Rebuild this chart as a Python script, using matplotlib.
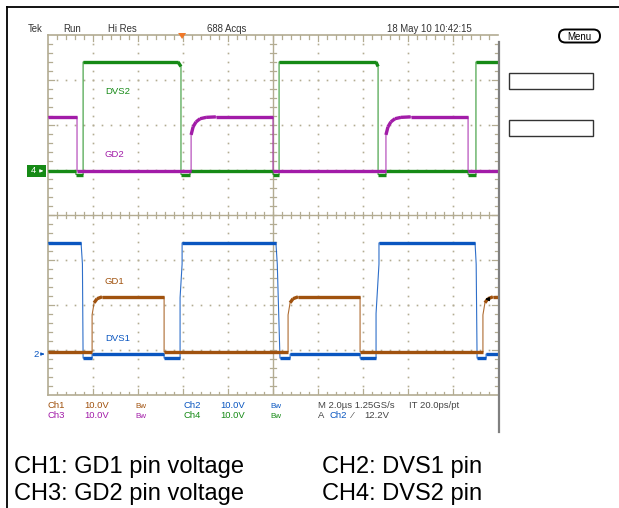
import numpy as np
import matplotlib
matplotlib.use("Agg")
import matplotlib.pyplot as plt
from matplotlib.patches import Rectangle, FancyBboxPatch, Polygon

plt.rcParams['font.family'] = ['Liberation Sans', 'DejaVu Sans']

# scope settings
VDIV = 10.0          # V per division
TDIV = 2.0           # us per division
# channel ground positions (divisions from centre)
pos_ch1 = -3.04
pos_ch2 = -3.09
pos_ch3 = 0.98
pos_ch4 = 0.98
trig_level = 12.2    # V on Ch2
trig_time = 5.96     # us

# traces: time (us), voltage (V)
# CH4 - DVS2 (green)
dvs2_t = [0.0, 1.24, 1.24, 1.56, 1.56, 5.78, 5.91, 5.91, 6.31, 6.31, 10.0, 10.0,
          10.27, 10.27, 14.58, 14.67, 14.67, 15.02, 15.02, 18.67, 18.67, 19.02, 19.02, 20.0]
dvs2_v = [0.0, 0.0, -0.8, -0.8, 24.2, 24.2, 23.2, -0.8, -0.8, 0.0, 0.0, -0.8,
          -0.8, 24.2, 24.2, 23.2, -0.8, -0.8, 0.0, 0.0, -0.8, -0.8, 24.2, 24.2]
# CH3 - GD2 (purple)
gd2_t = [0.0, 1.29, 1.29, 6.36, 6.36, 6.45, 6.58, 6.76, 7.03, 7.46, 10.0, 10.0,
         15.02, 15.02, 15.11, 15.24, 15.42, 15.69, 16.12, 18.67, 18.67, 20.0]
gd2_v = [12.0, 12.0, 0.0, 0.0, 8.0, 9.8, 10.9, 11.6, 11.9, 12.0, 12.0, 0.0,
         0.0, 8.0, 9.8, 10.9, 11.6, 11.9, 12.0, 12.0, 0.0, 0.0]
# CH2 - DVS1 (blue)
dvs1_t = [0.0, 1.47, 1.53, 1.56, 1.96, 1.96, 5.16, 5.16, 5.87, 5.87, 5.96, 5.96,
          10.13, 10.19, 10.31, 10.76, 10.76, 13.87, 13.87, 14.58, 14.58, 14.71, 14.71,
          18.98, 19.03, 19.07, 19.47, 19.47, 20.0]
dvs1_v = [24.7, 24.7, 20.0, -0.9, -0.9, 0.0, 0.0, -0.9, -0.9, 12.5, 20.0, 24.7,
          24.7, 20.0, -0.9, -0.9, 0.0, 0.0, -0.9, -0.9, 9.0, 20.0, 24.7,
          24.7, 20.0, -0.9, -0.9, 0.0, 0.0]
# CH1 - GD1 (brown)
gd1_t = [0.0, 1.96, 1.96, 2.05, 2.18, 2.40, 5.16, 5.16, 10.67, 10.67, 10.76, 10.89,
         11.11, 13.87, 13.87, 19.33, 19.33, 19.42, 19.55, 19.77, 20.0]
gd1_v = [0.0, 0.0, 8.2, 10.9, 11.8, 12.2, 12.2, 0.0, 0.0, 8.2, 10.9, 11.8,
         12.2, 12.2, 0.0, 0.0, 8.2, 10.9, 11.8, 12.2, 12.2]

c_ch1 = '#a0520e'
c_ch2 = '#0a56c0'
c_ch3 = '#a21ca8'
c_ch4 = '#168a16'
c_grat = '#b3ac92'

W, H = 619, 508
fig = plt.figure(figsize=(W/100, H/100), dpi=100)

# graticule box in pixels
gx0, gy0, gw, gh = 48, 35, 450, 360
ax = fig.add_axes([gx0/W, 1-(gy0+gh)/H, gw/W, gh/H])
ax.set_xlim(0, 10*TDIV)
ax.set_ylim(-4, 4)
ax.axis('off')

# graticule
px_x = TDIV/45.0   # us per pixel
px_y = 1/45.0      # div per pixel
minor_x = np.arange(0, 10*TDIV+1e-6, TDIV/5)
minor_y = np.arange(-4, 4+1e-6, 0.2)
for xd in np.arange(1, 10):
    if xd == 5:
        continue
    ax.plot(np.full(len(minor_y[1:-1]), xd*TDIV), minor_y[1:-1], ls='none', marker='s',
            ms=1.2, mew=0, color=c_grat)
for yd in [-3, -2, -1, 1, 2, 3]:
    ax.plot(minor_x[1:-1], np.full(len(minor_x[1:-1]), yd), ls='none', marker='s',
            ms=1.2, mew=0, color=c_grat)
# centre lines and edges
ax.plot([0, 20], [0, 0], color=c_grat, lw=1.0)
ax.plot([10, 10], [-4, 4], color=c_grat, lw=1.0)
ax.plot([0, 20], [4, 4], color=c_grat, lw=1.2, clip_on=False)
ax.plot([0, 20], [-4, -4], color=c_grat, lw=1.2, clip_on=False)
ax.plot([0, 0], [-4, 4], color=c_grat, lw=1.2, clip_on=False)
for x in minor_x[1:-1]:
    big = abs(x/TDIV - round(x/TDIV)) < 1e-6
    L = (6 if big else 3.5) * px_y
    ax.plot([x, x], [4, 4-L], color=c_grat, lw=0.9)
    ax.plot([x, x], [-4, -4+L], color=c_grat, lw=0.9)
    ax.plot([x, x], [-3*px_y, 3*px_y], color=c_grat, lw=0.9)
for y in minor_y[1:-1]:
    big = abs(y - round(y)) < 1e-6
    L = (6 if big else 3.5) * px_x
    ax.plot([0, L], [y, y], color=c_grat, lw=0.9)
    ax.plot([20, 20-L], [y, y], color=c_grat, lw=0.9)
    ax.plot([10-3*px_x, 10+3*px_x], [y, y], color=c_grat, lw=0.9)


def draw_trace(t, v, pos, color, z):
    t = np.array(t)
    v = np.array(v)
    y = pos + v/VDIV
    ax.plot(t, y, color=color, lw=0.8, alpha=0.85, zorder=z)
    for i in range(len(t)-1):
        dt = t[i+1]-t[i]
        if dt > 0 and abs(v[i+1]-v[i])/dt < 25:
            ax.plot(t[i:i+2], y[i:i+2], color=color, lw=2.4, solid_capstyle='butt', zorder=z)


draw_trace(dvs2_t, dvs2_v, pos_ch4, c_ch4, 3)
draw_trace(gd2_t, gd2_v, pos_ch3, c_ch3, 4)
draw_trace(dvs1_t, dvs1_v, pos_ch2, c_ch2, 5)
draw_trace(gd1_t, gd1_v, pos_ch1, c_ch1, 6)

# trace labels
ax.text(2.53, pos_ch4 + 1.7, 'DVS2', color=c_ch4, fontsize=6.8, va='baseline')
ax.text(2.53, pos_ch3 + 0.3, 'GD2', color=c_ch3, fontsize=6.8, va='baseline')
ax.text(2.53, pos_ch1 + 1.5, 'GD1', color=c_ch1, fontsize=6.8, va='baseline')
ax.text(2.53, pos_ch2 + 0.28, 'DVS1', color=c_ch2, fontsize=6.8, va='baseline')

# trigger level marker (right edge)
ax.annotate('', xy=(19.3, pos_ch2 + trig_level/VDIV), xytext=(19.75, pos_ch2 + trig_level/VDIV),
            arrowprops=dict(arrowstyle='-|>', color='black', lw=1.0, mutation_scale=5), zorder=8)

# overlay in pixel coordinates
ov = fig.add_axes([0, 0, 1, 1], facecolor='none')
ov.set_xlim(0, W)
ov.set_ylim(H, 0)
ov.axis('off')

# outer frame
ov.plot([7, W], [7, 7], color='black', lw=1.3)
ov.plot([7, 7], [7, H], color='black', lw=1.3)
ov.plot([498.5, 498.5], [42, 432], color='#808080', lw=1.6)

# header
hdr = dict(fontsize=6.9, color='#333333', va='baseline')
ov.text(28, 32, 'Tek', **hdr)
ov.text(63, 32, 'Run', **hdr)
ov.text(108, 32, 'Hi Res', **hdr)
ov.text(207, 32, '688 Acqs', **hdr)
ov.text(387, 32, '18 May 10 10:42:15', **hdr)

# trigger position marker
tx = gx0 + trig_time/px_x
ov.add_patch(Polygon([[tx-4, 33], [tx+4, 33], [tx, 39]], closed=True, color='#f07828', lw=0))

# channel ground markers
y4 = gy0 + (4-pos_ch4)*45
ov.add_patch(Rectangle((27, y4-6), 19, 12, color=c_ch4, lw=0))
ov.text(33, y4, '4', color='white', fontsize=6.8, ha='center', va='center')
ov.annotate('', xy=(46, y4), xytext=(38, y4),
            arrowprops=dict(arrowstyle='-|>', color='white', lw=0.8, mutation_scale=4))
y2 = gy0 + (4-pos_ch2)*45
ov.text(36, y2, '2', color=c_ch2, fontsize=6.8, ha='center', va='center')
ov.annotate('', xy=(47, y2), xytext=(40, y2),
            arrowprops=dict(arrowstyle='-|>', color=c_ch2, lw=0.8, mutation_scale=4))

# menu button and soft-key boxes
ov.add_patch(FancyBboxPatch((559, 29.5), 41, 13, boxstyle='round,pad=0,rounding_size=6.5',
                            fc='white', ec='black', lw=1.4))
ov.text(579.5, 36.5, 'Menu', fontsize=7, ha='center', va='center', color='black')
ov.add_patch(Rectangle((509, 73), 84, 16, fc='white', ec='#333333', lw=1.0))
ov.add_patch(Rectangle((509, 120), 84, 16, fc='white', ec='#333333', lw=1.0))

# readouts under the graticule
rd = dict(fontsize=6.8, va='baseline')
r1, r2 = 407.5, 418.5
ov.text(47, r1, 'Ch1', color=c_ch1, **rd)
ov.text(84, r1, '10.0V', color=c_ch1, **rd)
ov.text(135, r1, 'Bw', color=c_ch1, fontsize=5.8, va='baseline')
ov.text(183, r1, 'Ch2', color=c_ch2, **rd)
ov.text(220, r1, '10.0V', color=c_ch2, **rd)
ov.text(270, r1, 'Bw', color=c_ch2, fontsize=5.8, va='baseline')
ov.text(318, r1, 'M 2.0µs 1.25GS/s', color='#444444', **rd)
ov.text(409, r1, 'IT 20.0ps/pt', color='#444444', **rd)
ov.text(47, r2, 'Ch3', color=c_ch3, **rd)
ov.text(84, r2, '10.0V', color=c_ch3, **rd)
ov.text(135, r2, 'Bw', color=c_ch3, fontsize=5.8, va='baseline')
ov.text(183, r2, 'Ch4', color=c_ch4, **rd)
ov.text(220, r2, '10.0V', color=c_ch4, **rd)
ov.text(270, r2, 'Bw', color=c_ch4, fontsize=5.8, va='baseline')
ov.text(318, r2, 'A', color='#444444', **rd)
ov.text(329, r2, 'Ch2', color=c_ch2, **rd)
ov.text(352, r2, '⁄', color='#444444', **rd)
ov.text(364, r2, '12.2V', color='#444444', **rd)

# captions
cap = dict(fontsize=17, color='black', va='baseline')
ov.text(14, 473, 'CH1: GD1 pin voltage', **cap)
ov.text(322, 473, 'CH2: DVS1 pin', **cap)
ov.text(14, 500, 'CH3: GD2 pin voltage', **cap)
ov.text(322, 500, 'CH4: DVS2 pin', **cap)

fig.savefig('out.png', dpi=100)
